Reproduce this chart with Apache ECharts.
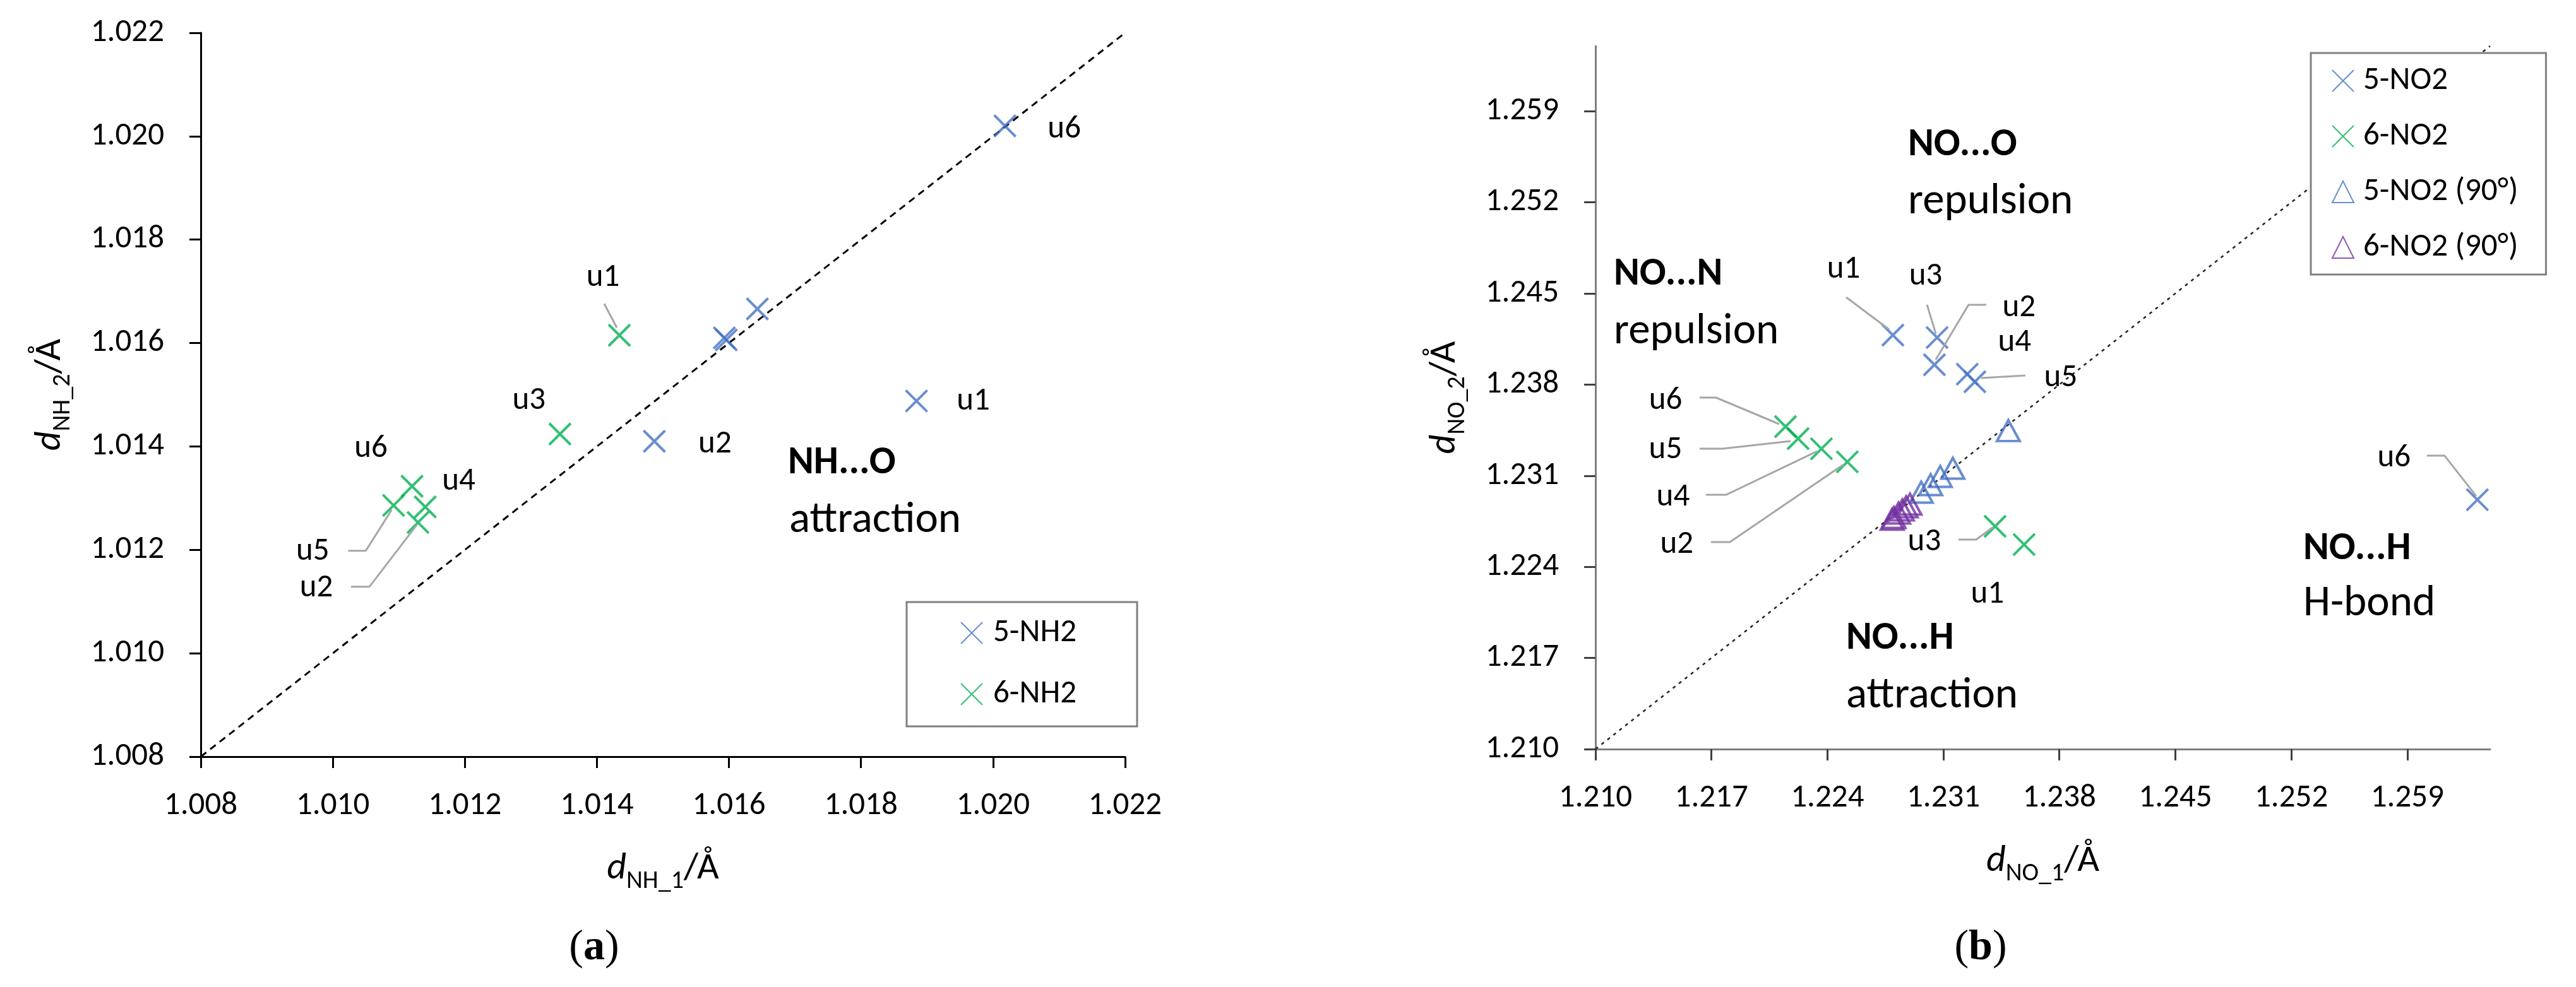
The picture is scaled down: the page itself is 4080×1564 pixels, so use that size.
<!DOCTYPE html>
<html>
<head>
<meta charset="utf-8">
<script src="https://cdn.jsdelivr.net/npm/echarts@6/dist/echarts.min.js"></script>
<style>
html,body{margin:0;padding:0;background:#fff;}
#chart{width:4080px;height:1564px;}
</style>
</head>
<body>
<div id="chart"></div>
<script>
// ---------- DATA ----------
// Panel (a): NH2 bond lengths
const nhPointNames = ['u1', 'u2', 'u3', 'u4', 'u5', 'u6'];
const nh5X = [1.01884, 1.01487, 1.01593, 1.01643, 1.01596, 1.02018];
const nh5Y = [1.01488, 1.01410, 1.01610, 1.01666, 1.01606, 1.02020];
const nh6X = [1.01434, 1.01129, 1.01344, 1.01140, 1.01092, 1.01120];
const nh6Y = [1.01615, 1.01253, 1.01424, 1.01283, 1.01286, 1.01323];
const nhRange = [1.008, 1.022];
const nhTicks = ['1.008', '1.010', '1.012', '1.014', '1.016', '1.018', '1.020', '1.022'];

// Panel (b): NO2 bond lengths
const noPointNames = ['u1', 'u2', 'u3', 'u4', 'u5', 'u6'];
const no5X = [1.22795, 1.23046, 1.23062, 1.23244, 1.23290, 1.26323];
const no5Y = [1.24180, 1.23952, 1.24161, 1.23880, 1.23821, 1.22915];
const no6X = [1.23587, 1.22520, 1.23412, 1.22364, 1.22223, 1.22147];
const no6Y = [1.22571, 1.23206, 1.22711, 1.23307, 1.23385, 1.23477];
const no5rX = [1.23492, 1.23157, 1.23081, 1.23023, 1.22966];
const no5rY = [1.23446, 1.23157, 1.23094, 1.23031, 1.22973];
const no6rX = [1.22898, 1.22875, 1.22852, 1.22829, 1.22802, 1.22791];
const no6rY = [1.22881, 1.22861, 1.22837, 1.22813, 1.22779, 1.22765];
const noRange = [1.210, 1.264];
const noTicks = ['1.210', '1.217', '1.224', '1.231', '1.238', '1.245', '1.252', '1.259'];

const seriesNamesA = ['5-NH2', '6-NH2'];
const seriesNamesB = ['5-NO2', '6-NO2', '5-NO2 (90°)', '6-NO2 (90°)'];

// ---------- STYLE / LAYOUT ----------
const FONT = 'Carlito, Calibri, Lato, "Open Sans", sans-serif';
const BLUE = '#4472C4', GREEN = '#00B050', PURPLE = '#7030A0';
const XSYM = 'path://M0,0L20,20M20,0L0,20';

// label offsets (px, relative to point) and leader polylines
const labA5 = {
  u1: {dx: 90, dy: 1},
  u2: {dx: 96, dy: 5},
  u6: {dx: 94, dy: 6}
};
const labA6 = {
  u1: {dx: -26, dy: -91, leader: [[-24, -50], [-4, -12]]},
  u3: {dx: -49, dy: -53},
  u6: {dx: -65, dy: -59},
  u4: {dx: 53, dy: -40},
  u5: {dx: -128, dy: 73, leader: [[-72, 72], [-44, 72], [-3, 7]]},
  u2: {dx: -161, dy: 104, leader: [[-106, 102], [-77, 102], [-2, 4]]}
};
const labB5 = {
  u1: {dx: -78, dy: -104, leader: [[-74, -60], [-6, -9]]},
  u3: {dx: -18, dy: -97, leader: [[-16, -52], [-2, -6]]},
  u2: {dx: 134, dy: -90, leader: [[82, -95], [54, -95], [2, -8]]},
  u4: {dx: 75, dy: -50},
  u5: {dx: 136, dy: -6, leader: [[80, -10], [10, -6]]},
  u6: {dx: -132, dy: -66, leader: [[-80, -70], [-52, -70], [-2, -6]]}
};
const labB6 = {
  u6: {dx: -190, dy: -41, leader: [[-136, -46], [-110, -46], [-10, -4]]},
  u5: {dx: -210, dy: 18, leader: [[-156, 16], [-120, 16], [-12, 4]]},
  u4: {dx: -235, dy: 77, leader: [[-183, 73], [-151, 73], [-7, 4]]},
  u2: {dx: -270, dy: 131, leader: [[-216, 127], [-186, 127], [-6, 4]]},
  u3: {dx: -112, dy: 25, leader: [[-58, 21], [-30, 21], [-4, 2]]},
  u1: {dx: -58, dy: 79}
};

function pts(xs, ys) { return xs.map((x, i) => [x, ys[i]]); }

function crossSeries(name, xs, ys, color, xi) {
  return {
    type: 'scatter', name: name, xAxisIndex: xi, yAxisIndex: xi,
    data: pts(xs, ys), symbol: XSYM, symbolSize: 34, z: 3,
    itemStyle: {color: 'rgba(0,0,0,0)', borderColor: color, borderWidth: 4},
    emphasis: {disabled: true}
  };
}
function triSeries(name, xs, ys, color, xi) {
  return {
    type: 'scatter', name: name, xAxisIndex: xi, yAxisIndex: xi,
    data: pts(xs, ys), symbol: 'triangle', symbolSize: [36, 33], z: 3,
    itemStyle: {color: 'rgba(0,0,0,0)', borderColor: color, borderWidth: 4},
    emphasis: {disabled: true}
  };
}
function labelSeries(xs, ys, names, layout, xi) {
  return {
    type: 'custom', xAxisIndex: xi, yAxisIndex: xi, silent: true, z: 4,
    data: pts(xs, ys), encode: {x: 0, y: 1},
    renderItem: function (params, api) {
      const name = names[params.dataIndex];
      const lay = layout[name];
      const children = [];
      if (lay) {
        const p = api.coord([api.value(0), api.value(1)]);
        if (lay.leader) {
          children.push({
            type: 'polyline',
            shape: {points: lay.leader.map(q => [p[0] + q[0], p[1] + q[1]])},
            style: {stroke: '#A6A6A6', lineWidth: 3, fill: null}
          });
        }
        children.push({
          type: 'text', x: p[0] + lay.dx, y: p[1] + lay.dy,
          style: {text: name, fontSize: 51, fontFamily: FONT, fill: '#000',
                  align: 'center', verticalAlign: 'middle'}
        });
      }
      return {type: 'group', children: children};
    }
  };
}
function diagSeries(range, xi, style) {
  return {
    type: 'line', xAxisIndex: xi, yAxisIndex: xi, silent: true, z: 1,
    data: [[range[0], range[0]], [range[1], range[1]]],
    symbol: 'none', lineStyle: style, animation: false
  };
}

const nameRich = {
  i: {fontStyle: 'italic', fontSize: 60, fontFamily: FONT, color: '#000'},
  s: {fontSize: 40, fontFamily: FONT, color: '#000', padding: [40, 0, 0, 0]},
  n: {fontSize: 60, fontFamily: FONT, color: '#000'}
};

function valAxis(range, ticks, lineColor, tickColor, name, isY, gi) {
  const vals = ticks.map(Number);
  return {
    type: 'value', gridIndex: gi, min: range[0], max: range[1],
    name: name, nameLocation: 'middle', nameGap: isY ? 198 : 138,
    nameRotate: isY ? 90 : 0,
    nameTextStyle: {fontSize: 60, fontFamily: FONT, color: '#000', rich: nameRich},
    axisLine: {show: true, onZero: false, lineStyle: {color: lineColor, width: 3}},
    axisTick: {show: true, inside: false, length: 18, customValues: vals,
               lineStyle: {color: tickColor, width: 3}},
    axisLabel: {show: true, customValues: vals, margin: isY ? 58 : 53,
                fontSize: 51, fontFamily: FONT, color: '#000',
                formatter: v => Number(v).toFixed(3)},
    splitLine: {show: false}
  };
}

const option = {
  animation: false,
  backgroundColor: '#fff',
  textStyle: {fontFamily: FONT},
  grid: [
    {left: 318, top: 52, width: 1464, height: 1147},
    {left: 2527, top: 73, width: 1417, height: 1114}
  ],
  xAxis: [
    valAxis(nhRange, nhTicks, '#000', '#000', '{i|d}{s|NH_1}{n|/Å}', false, 0),
    valAxis(noRange, noTicks, '#7F7F7F', '#404040', '{i|d}{s|NO_1}{n|/Å}', false, 1)
  ],
  yAxis: [
    valAxis(nhRange, nhTicks, '#000', '#000', '{i|d}{s|NH_2}{n|/Å}', true, 0),
    valAxis(noRange, noTicks, '#7F7F7F', '#404040', '{i|d}{s|NO_2}{n|/Å}', true, 1)
  ],
  legend: [
    {
      data: seriesNamesA, orient: 'vertical', left: 1436, top: 954,
      padding: [19, 96, 21, 85], itemGap: 37, itemWidth: 34, itemHeight: 34,
      borderColor: '#808080', borderWidth: 3, backgroundColor: '#fff',
      textStyle: {fontSize: 51, fontFamily: FONT, color: '#000', lineHeight: 60, padding: [0, 0, 0, 12]},
      selectedMode: false, z: 10
    },
    {
      data: seriesNamesB, orient: 'vertical', left: 3660, top: 84,
      padding: [14, 44, 13, 33], itemGap: 28, itemWidth: 34, itemHeight: 34,
      borderColor: '#808080', borderWidth: 3, backgroundColor: '#fff',
      textStyle: {fontSize: 51, fontFamily: FONT, color: '#000', lineHeight: 60, padding: [0, 0, 0, 10]},
      selectedMode: false, z: 10
    }
  ],
  series: [
    diagSeries(nhRange, 0, {color: '#000', width: 3, type: [11, 8]}),
    diagSeries(noRange, 1, {color: '#222', width: 2.5, type: [5, 7]}),
    crossSeries(seriesNamesA[0], nh5X, nh5Y, BLUE, 0),
    crossSeries(seriesNamesA[1], nh6X, nh6Y, GREEN, 0),
    crossSeries(seriesNamesB[0], no5X, no5Y, BLUE, 1),
    crossSeries(seriesNamesB[1], no6X, no6Y, GREEN, 1),
    triSeries(seriesNamesB[2], no5rX, no5rY, BLUE, 1),
    triSeries(seriesNamesB[3], no6rX, no6rY, PURPLE, 1),
    labelSeries(nh5X, nh5Y, nhPointNames, labA5, 0),
    labelSeries(nh6X, nh6Y, nhPointNames, labA6, 0),
    labelSeries(no5X, no5Y, noPointNames, labB5, 1),
    labelSeries(no6X, no6Y, noPointNames, labB6, 1)
  ],
  graphic: (function () {
    const items = [];
    const ann = [
      ['NH...O', true, 1248, 734], ['attraction', false, 1250, 826],
      ['NO...O', true, 3022, 230], ['repulsion', false, 3022, 321],
      ['NO...N', true, 2556, 435], ['repulsion', false, 2556, 527],
      ['NO...H', true, 2924, 1012], ['attraction', false, 2924, 1104],
      ['NO...H', true, 3648, 870], ['H-bond', false, 3648, 958]
    ];
    ann.forEach(a => items.push({
      type: 'text', x: a[2], y: a[3], z: 20,
      style: {text: a[0], fontSize: a[1] ? 62 : 69, fontFamily: FONT, fontWeight: a[1] ? 'bold' : 'normal',
              fill: '#000', align: 'left', verticalAlign: 'middle'}
    }));
    [['a', 941], ['b', 3137]].forEach(p => items.push({
      type: 'text', x: p[1], y: 1502, z: 20,
      style: {
        text: '{p|(}{b|' + p[0] + '}{p|)}',
        align: 'center', verticalAlign: 'middle',
        rich: {
          p: {fontFamily: '"Liberation Serif", "DejaVu Serif", serif', fontSize: 68, fill: '#000'},
          b: {fontFamily: '"Liberation Serif", "DejaVu Serif", serif', fontSize: 68, fontWeight: 'bold', fill: '#000'}
        }
      }
    }));
    return items;
  })()
};

const chart = echarts.init(document.getElementById('chart'), null, {renderer: 'canvas'});
chart.setOption(option);
</script>
</body>
</html>
